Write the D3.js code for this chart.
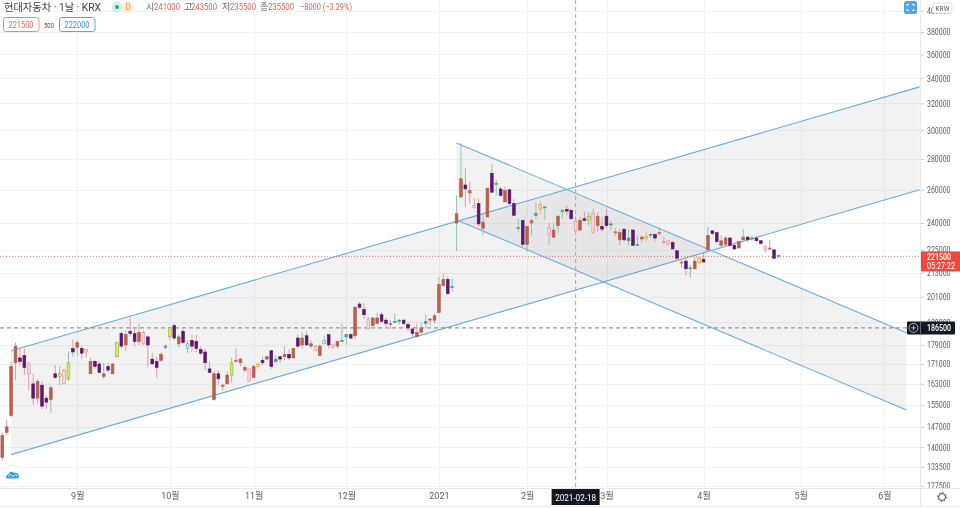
<!DOCTYPE html>
<html><head><meta charset="utf-8">
<script src="https://cdn.jsdelivr.net/npm/d3@7"></script>
<style>
html,body{margin:0;padding:0;background:#fff;overflow:hidden}
svg{display:block;filter:blur(.3px)}
text{font-family:Roboto,"Noto Sans CJK KR",sans-serif}
</style></head><body>
<svg id="c" width="960" height="508"></svg>
<script>
// ---- data (KRW, one entry per trading session) ----
const highs=[
145000,149500,172000,180000,178000,177500,172000,167000,165000,164000,
158500,162500,170500,170000,169000,176000,181500,181000,178500,177000,
173500,172500,172000,171500,171500,171500,180000,185000,185500,191500,
186500,188500,185500,183000,175500,174000,176000,179500,187000,188500,
183500,186000,181000,183500,183500,178500,177500,172000,168000,168500,
163000,168000,173500,177500,173500,170500,169000,170500,171500,174000,
174500,177000,174500,174500,178500,177000,178000,183500,184500,185000,
181000,179000,179500,183000,183500,179500,181000,188500,184000,184000,
196500,198500,198000,191500,191500,193500,194000,191000,190000,193000,
190500,190500,189000,186500,188500,189000,192500,191000,193000,210500,
212500,211000,210000,256500,291000,274000,265000,254500,254500,245500,
261000,276500,266000,262000,262000,260500,254500,242500,242000,238000,
242500,252000,253500,250000,240000,240000,244500,248000,250500,248000,
243500,243500,246500,246500,248500,246500,243500,248500,241500,237000,
236500,237000,236000,236500,233000,233000,235000,234500,234000,237500,
232000,230500,230000,225000,220000,220500,217000,221500,221500,224000,
238000,236000,235000,233000,232500,232000,229000,230000,236500,232500,
233000,232500,230500,227500,230500,225500,222500];
const bodyUpper=[
144000,147000,170000,178500,173500,174500,171000,163000,164000,162500,
157500,161500,167000,167000,168500,171500,177500,180000,177500,177000,
172000,172000,171000,167000,170000,171000,180000,184000,183500,185000,
184000,184500,184500,182500,173000,172000,175000,178500,186500,187500,
182500,185000,179500,181000,180500,177000,176000,169000,167000,167000,
162500,166500,171500,172500,173000,169500,169000,170000,171000,172500,
174000,176500,173000,174000,175000,175000,177500,182000,182000,183000,
179500,178500,178500,181000,183500,179000,180500,181000,183500,183500,
196000,197500,195000,190500,191000,191000,192500,190000,188500,189500,
190000,190000,188000,186000,184500,186500,189500,190500,192000,207000,
209500,209500,206000,245500,267000,263000,259500,250500,251500,240500,
261000,270500,264000,260500,259500,260000,251500,237500,241500,238000,
241500,245500,251000,249500,237500,236000,244000,247500,248000,247500,
241000,241500,242500,244000,245500,244000,238000,244000,239500,235000,
234500,236500,231500,236000,228000,232000,232500,233500,233500,234500,
229500,230000,229000,224500,218500,219000,215500,219000,221000,220000,
233000,235500,234500,230000,231500,231500,227500,229500,232000,232000,
231500,231500,230000,227000,226000,225000,222000];
const bodyLower=[
136500,145000,151000,171500,172000,169500,167000,157500,157500,154500,
156000,157000,165500,166000,163000,165000,176000,178000,175500,176000,
167000,170000,167500,166000,168500,167000,174000,178500,179000,184000,
180500,180500,179500,179000,171000,169500,172500,178000,182500,182000,
179500,180000,177500,178500,177500,175500,171500,167500,157000,165000,
162000,163000,166500,172000,171500,168500,164000,165500,170000,171500,
173000,170000,172000,173000,174000,173500,173500,178500,179000,179000,
178500,176500,174500,179500,179000,178000,178500,180500,182500,182000,
183000,196000,192500,186000,187500,188500,189500,188500,188000,189000,
189500,188500,186500,184000,182500,184500,188500,190000,190000,193500,
206500,202500,205500,240000,255500,260500,258000,249000,239500,237000,
243500,258500,263500,256500,252500,251500,244500,237000,228000,228000,
240000,244500,248000,249000,233500,232000,238500,247000,247000,242500,
235500,236000,241500,241500,234500,238500,236500,238500,239000,234500,
230500,230500,230000,227500,227500,231000,231000,233000,231500,234000,
229000,228000,225500,220500,218000,215000,215000,215000,218000,218500,
225000,234000,229500,227500,228000,227500,225500,226000,230500,230500,
231000,230000,228500,225000,225500,220500,221500];
const lows=[
135500,144000,150500,164500,170000,166500,160500,155000,155500,153500,
153500,152000,165000,162500,163000,164000,174000,174500,173000,173500,
167000,169000,167500,165000,167500,167000,174000,177500,176500,183000,
178500,179000,179000,169500,171000,165500,172000,177000,181000,181000,
178000,179500,175500,176000,176000,174500,168500,167500,156500,163000,
160500,163000,163500,171500,170000,167500,164000,165500,169000,170500,
172500,169000,171500,171500,172500,172500,173500,177500,177500,178500,
177500,176500,174500,179500,177500,177500,177500,180500,179000,181500,
181500,195000,190500,186000,187000,188000,189000,186500,186000,189000,
188000,188000,185000,182500,182500,184000,186500,187500,188500,193000,
206000,202000,203500,224500,255500,249500,251500,248500,238000,233000,
243500,258000,256500,255500,252500,250500,244500,235000,226500,224000,
233000,242500,244500,242000,227500,231500,234500,242500,244500,242000,
235500,235000,241000,238500,234000,235000,235000,237000,236000,232500,
227500,229500,227500,227000,227000,228500,229500,231500,229500,233000,
228000,227500,225500,220000,215500,211500,210500,214500,217500,218500,
225000,233000,228500,226000,227000,226500,225000,226000,230000,229500,
230000,229000,228000,223500,225000,220000,220500];
// bar category per session
const barKinds=(
"BBCCPPHPBP"+"PCPLHLPCPH"+"CPPCPBLPCP"+"PCHPPPBGLP"+"CPTPPPPPBP"+
"DBLDBBHBOP"+"BPGPCPBPCP"+"CHBTPHBGGP"+"BPPHCCPPDG"+"GPPPBCGDCC"+
"CPGCCPDHPC"+"BPGPCPPGPC"+"DGOGHCCGPP"+"HBPLHCPPGD"+"BPGPGBOGPD"+
"HHPPDPGBOP"+"CPPCBPPBCP"+"GPPHDPG").split("");
const yTickValues=[400000,380000,360000,340000,320000,300000,280000,260000,240000,225000,213000,201000,189000,179000,171000,163000,155000,147000,140000,133500,127500];
const monthLabels=["9월","10월","11월","12월","2021","2월","3월","4월","5월","6월"];
const monthBars=[17,38,57,78,99,119,137,159,181,200];
const channelUp={top:[[2,176500],[208,333000]],bottom:[[2,137500],[208,260000]]};
const channelDown={top:[[103,291000],[205,184300]],bottom:[[103,241800],[205,153100]]};
const lastPrice=221500, crossPrice=186500, crossBar=130;
const crossDate="2021-02-18", countdown="05:27:22";
const title="현대자동차 · 1날 · KRX";
const ohlcLabels=["시","고","저","종"];
const ohlcValues=["241000","243500","235500","235500"];
const changeText="−8000 (−3.29%)";
const bidAsk=["221500","500","222000"];

// ---- scales ----
const W=960,H=508,paneR=920,paneB=488;
const x=d3.scaleLinear().domain([0,176]).range([2.3,778.5]);
const y=d3.scaleLog().domain([127500,380000]).range([486,32]);
const svg=d3.select("#c");
svg.append("defs").append("clipPath").attr("id","pane").append("rect")
  .attr("width",paneR).attr("height",paneB);

// ---- grid ----
const grid=svg.append("g").attr("stroke","#f0f2f6").attr("stroke-width",1);
grid.selectAll(".h").data(yTickValues).join("line").attr("x1",0).attr("x2",paneR)
  .attr("y1",d=>Math.round(y(d))+.5).attr("y2",d=>Math.round(y(d))+.5);
grid.selectAll(".v").data(monthBars).join("line").attr("y1",0).attr("y2",paneB)
  .attr("x1",d=>Math.round(x(d))+.5).attr("x2",d=>Math.round(x(d))+.5);

// ---- channels ----
const plot=svg.append("g").attr("clip-path","url(#pane)");
const line=d3.line().x(d=>x(d[0])).y(d=>y(d[1]));
[channelUp,channelDown].forEach(ch=>{
  plot.append("path").attr("d",line(ch.top.concat(ch.bottom.slice().reverse()))+"Z")
    .attr("fill","#70707e").attr("fill-opacity",.095);
  [ch.top,ch.bottom].forEach(l=>plot.append("path").attr("d",line(l))
    .attr("fill","none").attr("stroke","#6aaedd").attr("stroke-width",1.1));
});

// ---- price and cross lines ----
plot.append("line").attr("x1",0).attr("x2",paneR).attr("y1",y(lastPrice)).attr("y2",y(lastPrice))
  .attr("stroke","#e0564c").attr("stroke-width",.8).attr("stroke-dasharray","1 2");
plot.append("line").attr("x1",0).attr("x2",paneR).attr("y1",y(crossPrice)).attr("y2",y(crossPrice))
  .attr("stroke","#808080").attr("stroke-dasharray","4 3");
plot.append("line").attr("x1",x(crossBar)).attr("x2",x(crossBar)).attr("y1",0).attr("y2",paneB)
  .attr("stroke","#aaa").attr("stroke-dasharray","4 3");

// ---- candles ----
const kindStyle={
  B:{fill:"#b5614e",stroke:"#b5614e",wick:"#e59ca0"},
  C:{fill:"#b5614e",stroke:"#b5614e",wick:"#8cc4b6"},
  P:{fill:"#5c1a6c",stroke:"#5c1a6c",wick:"#e89aa2"},
  H:{fill:"#f9d8dd",stroke:"#e28c9a",wick:"#e89aa2"},
  L:{fill:"#d6ec50",stroke:"#86b04a",wick:"#8cc4b6"},
  O:{fill:"#ffd35a",stroke:"#e2a24a",wick:"#eeb7a0"},
  T:{fill:"#cfe9e6",stroke:"#6aa9a6",wick:"#8cc4b6"},
  G:{fill:"#4c9c8e",stroke:"#4c9c8e",wick:"#8cc4b6"},
  D:{fill:"#d8605f",stroke:"#d8605f",wick:"#e89aa2"}
};
const bars=d3.range(highs.length);
const candles=plot.append("g");
candles.selectAll(".w").data(bars).join("line")
  .attr("x1",i=>x(i)).attr("x2",i=>x(i)).attr("y1",i=>y(highs[i])).attr("y2",i=>y(lows[i]))
  .attr("stroke",i=>kindStyle[barKinds[i]].wick).attr("stroke-width",1);
candles.selectAll(".b").data(bars).join("rect")
  .attr("x",i=>x(i)-1.4).attr("width",2.8)
  .attr("y",i=>y(bodyUpper[i]))
  .attr("height",i=>Math.max(1,y(bodyLower[i])-y(bodyUpper[i])))
  .attr("fill",i=>kindStyle[barKinds[i]].fill)
  .attr("stroke",i=>kindStyle[barKinds[i]].stroke).attr("stroke-width",.6);

// ---- axes ----
const sq=(sel,w)=>sel.attr("textLength",w).attr("lengthAdjust","spacingAndGlyphs");
const axisR=svg.append("g").attr("transform",`translate(${paneR},0)`)
  .call(d3.axisRight(y).tickValues(yTickValues).tickFormat(d3.format("d")).tickSize(4).tickPadding(3));
axisR.select(".domain").attr("stroke","#e8eaee");
axisR.selectAll("line").attr("stroke","#c9ccd3");
axisR.selectAll("text").attr("fill","#5d606a").style("font-size","9px").style("font-family","Roboto,sans-serif");
sq(axisR.selectAll("text"),23.5);
const axisB=svg.append("g").attr("transform",`translate(0,${paneB})`)
  .call(d3.axisBottom(x).tickValues(monthBars).tickFormat((d,i)=>monthLabels[i]).tickSize(0).tickPadding(5));
axisB.select(".domain").remove();
axisB.selectAll("text").attr("fill","#5d606a").style("font-size","9px");
svg.append("line").attr("x1",0).attr("x2",W).attr("y1",paneB+.5).attr("y2",paneB+.5).attr("stroke","#e6e8ec");
svg.append("line").attr("x1",0).attr("x2",W).attr("y1",506.5).attr("y2",506.5).attr("stroke","#eceef1");
svg.append("line").attr("x1",paneR+.5).attr("x2",paneR+.5).attr("y1",0).attr("y2",H-2).attr("stroke","#e6e8ec");

// ---- current price label ----
const pl=svg.append("g");
pl.append("rect").attr("x",921).attr("y",y(lastPrice)-5).attr("width",39).attr("height",20).attr("fill","#f0483e");
sq(pl.append("text").attr("x",927).attr("y",y(lastPrice)+3.5).attr("fill","#fff").attr("font-size",9).attr("font-weight",500).text(lastPrice),24);
sq(pl.append("text").attr("x",927).attr("y",y(lastPrice)+12.5).attr("fill","#fff").attr("font-size",9).text(countdown),28);

// ---- crosshair labels ----
const cl=svg.append("g");
cl.append("rect").attr("x",907).attr("y",y(crossPrice)-6.5).attr("width",48).attr("height",13).attr("rx",1).attr("fill","#131722");
cl.append("line").attr("x1",920.5).attr("x2",920.5).attr("y1",y(crossPrice)-6).attr("y2",y(crossPrice)+6).attr("stroke","#666");
cl.append("circle").attr("cx",913.5).attr("cy",y(crossPrice)).attr("r",4.5).attr("fill","none").attr("stroke","#ddd").attr("stroke-width",.8);
cl.append("path").attr("d",`M911 ${y(crossPrice)}h5M913.5 ${y(crossPrice)-2.5}v5`).attr("stroke","#ddd").attr("stroke-width",.8);
sq(cl.append("text").attr("x",927).attr("y",y(crossPrice)+3.3).attr("fill","#fff").attr("font-size",9).attr("font-weight",500).text(crossPrice),24);
cl.append("rect").attr("x",x(crossBar)-24).attr("y",489).attr("width",48).attr("height",16).attr("fill","#131722");
sq(cl.append("text").attr("x",x(crossBar)).attr("y",500.5).attr("text-anchor","middle").attr("fill","#fff").attr("font-size",9).text(crossDate),41);

// ---- header ----
const hd=svg.append("g");
sq(hd.append("text").attr("x",4).attr("y",10.5).attr("font-size",10.5).attr("fill","#444").text(title),97);
hd.append("circle").attr("cx",117).attr("cy",7).attr("r",5.5).attr("fill","#d5efe8");
hd.append("circle").attr("cx",117).attr("cy",7).attr("r",2).attr("fill","#26a69a");
hd.append("circle").attr("cx",128).attr("cy",7).attr("r",6).attr("fill","#fdebd0");
hd.append("text").attr("x",128).attr("y",10).attr("text-anchor","middle").attr("font-size",8.5).attr("fill","#f0a030").text("D");
const labX=[146,184,222,260], valX=[154,191,230,268];
ohlcLabels.forEach((l,i)=>{
  hd.append("text").attr("x",labX[i]).attr("y",10).attr("font-size",9).attr("fill","#666").text(l);
  sq(hd.append("text").attr("x",valX[i]).attr("y",10).attr("font-size",9).attr("fill","#d9645c").text(ohlcValues[i]),26);
});
sq(hd.append("text").attr("x",300).attr("y",10).attr("font-size",9).attr("fill","#d9645c").text(changeText),52);
hd.append("rect").attr("x",3.5).attr("y",17.5).attr("width",35.5).attr("height",14).attr("rx",2.5).attr("fill","#fff").attr("stroke","#df8f8a");
sq(hd.append("text").attr("x",21).attr("y",28).attr("text-anchor","middle").attr("font-size",9).attr("fill","#d9645c").text(bidAsk[0]),25);
sq(hd.append("text").attr("x",49).attr("y",28).attr("text-anchor","middle").attr("font-size",8).attr("fill","#555").text(bidAsk[1]),10);
hd.append("rect").attr("x",59.5).attr("y",17.5).attr("width",35.5).attr("height",14).attr("rx",2.5).attr("fill","#fff").attr("stroke","#5aa8d8");
sq(hd.append("text").attr("x",77).attr("y",28).attr("text-anchor","middle").attr("font-size",9).attr("fill","#3f93cc").text(bidAsk[2]),25);

// ---- widgets ----
const wd=svg.append("g");
wd.append("rect").attr("x",904).attr("y",1).attr("width",13).attr("height",13).attr("rx",2.5).attr("fill","#4ba6ee");
wd.append("path").attr("d","M907 6V4.5h2M912 4.5h2V6M907 9v1.5h2M912 10.5h2V9").attr("fill","none").attr("stroke","#fff");
wd.append("rect").attr("x",933).attr("y",3).attr("width",19).attr("height",10).attr("rx",1.5).attr("fill","#fff").attr("stroke","#dfe1e6");
sq(wd.append("text").attr("x",942.5).attr("y",11).attr("text-anchor","middle").attr("font-size",8).attr("fill","#555").text("KRW"),14);
wd.append("circle").attr("cx",13).attr("cy",474).attr("r",9).attr("fill","#fff").attr("stroke","#eceef1");
wd.append("path").attr("d","M6.5 478.5c-1-2 0-4 2-4.3 1-2.5 4-3.2 5.5-1.2 2.500-.6 5 1 5 3.500 0 1-.5 2-1 2z").attr("fill","#3a9fe6");
wd.append("path").attr("d","M8 476.500l2.500-2 2.500 2 2.500-2 2 1.800").attr("fill","none").attr("stroke","#fff").attr("stroke-width",.8);
wd.append("circle").attr("cx",942).attr("cy",497).attr("r",3.5).attr("fill","none").attr("stroke","#444").attr("stroke-width",1);
wd.append("circle").attr("cx",942).attr("cy",497).attr("r",4.6).attr("fill","none").attr("stroke","#444").attr("stroke-width",1).attr("stroke-dasharray","1.2 2.4");
</script>
</body></html>
